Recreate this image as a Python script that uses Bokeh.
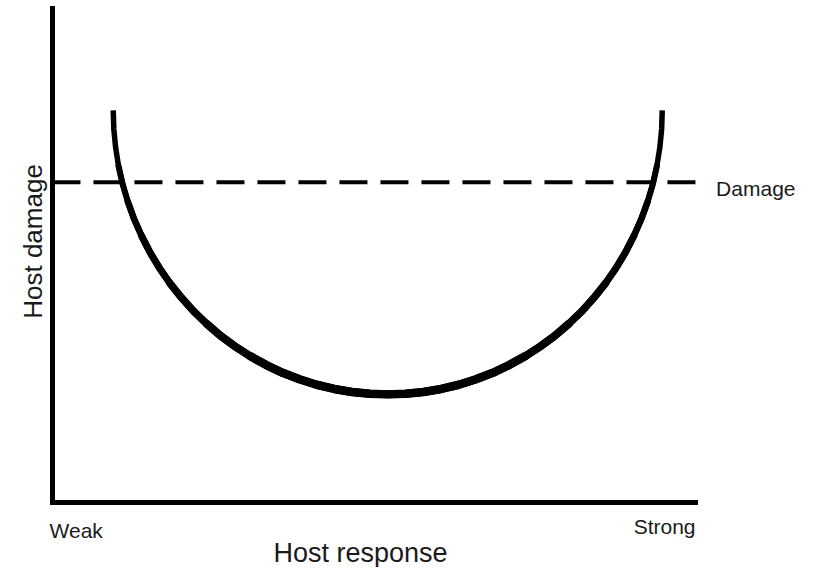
import math
from bokeh.plotting import figure
from bokeh.models import Range1d, FixedTicker
from bokeh.core.properties import value
from bokeh.embed import file_html
from bokeh.resources import INLINE

# ---- data (arbitrary 0-100 units) ----
curve_x = [9.45, 9.54, 9.82, 10.27, 10.90, 11.72, 12.70, 13.86, 15.17, 16.65, 18.28, 20.05,
           21.95, 23.99, 26.14, 28.41, 30.79, 33.26, 35.79, 38.41, 41.08, 43.81, 46.57, 49.34,
           52.13,
           54.92, 57.70, 60.46, 63.19, 65.85, 68.48, 71.01, 73.48, 75.85, 78.12, 80.27, 82.32,
           84.22, 85.99, 87.62, 89.10, 90.41, 91.57, 92.55, 93.37, 93.99, 94.45, 94.73, 94.82]
curve_y = [79.33, 75.57, 71.83, 68.11, 64.45, 60.85, 57.34, 53.92, 50.59, 47.40, 44.33, 41.44,
           38.68, 36.12, 33.72, 31.54, 29.55, 27.78, 26.22, 24.90, 23.80, 22.95, 22.34, 21.97,
           21.85,
           21.97, 22.34, 22.95, 23.80, 24.90, 26.22, 27.78, 29.55, 31.54, 33.72, 36.12, 38.68,
           41.44, 44.33, 47.40, 50.59, 53.92, 57.34, 60.85, 64.45, 68.11, 71.83, 75.57, 79.33]
damage_x = [0, 100]
damage_y = [64.8, 64.8]
x_tick_labels = ["Weak", "Strong"]
x_title = "Host response"
y_title = "Host damage"
threshold_label = "Damage"

FONT = "Liberation Sans"
W, H = 798, 567

p = figure(width=W, height=H, output_backend="svg", toolbar_location=None,
           x_range=Range1d(-8.08, 116.01), y_range=Range1d(-13.19, 101.57),
           min_border=0)
p.outline_line_color = None
p.grid.visible = False
p.background_fill_color = "white"
p.border_fill_color = "white"

for ax in (p.xaxis[0], p.yaxis[0]):
    ax.fixed_location = 0
    ax.bounds = (0, 100)
    ax.ticker = FixedTicker(ticks=[])
    ax.axis_line_width = 5
    ax.axis_line_color = "black"
    ax.axis_line_cap = "square"
    ax.major_tick_line_color = None
    ax.minor_tick_line_color = None
    ax.major_tick_out = 0
    ax.major_tick_in = 0
    ax.major_label_standoff = 0
    ax.major_label_text_font_size = "0px"

# dashed damage threshold
p.line(damage_x, damage_y, line_color="black", line_width=4, line_dash="28 13")

# U-shaped curve, drawn in layers so that it thickens toward the bottom
ymin, ymax = min(curve_y), max(curve_y)
def stroke(y):
    return 5.5 + 3.5 * (ymax - y) / (ymax - ymin)

p.line(curve_x, curve_y, line_color="black", line_width=5.5, line_join="round")
level = 6.0
while level <= 9.0:
    idx = [i for i, y in enumerate(curve_y) if stroke(y) >= level]
    if len(idx) >= 2:
        a, b = idx[0], idx[-1] + 1
        p.line(curve_x[a:b], curve_y[a:b], line_color="black", line_width=level,
               line_join="round", line_cap="round")
    level += 0.5

# texts
def txt(x, y, s, size, align, angle=0.0):
    p.text(x=[x], y=[y], text=[s], text_font=value(FONT), text_font_size=value(size),
           text_color="#1a1a1a", text_align=align, text_baseline="alphabetic",
           angle=angle)

txt(-0.45, -5.7, x_tick_labels[0], "21px", "left")
txt(100, -4.9, x_tick_labels[1], "21px", "right")
txt(47.9, -10.2, x_title, "27px", "center")
txt(-3.05, 52.8, y_title, "26px", "center", math.pi / 2)
txt(103.2, 63.6, threshold_label, "21px", "left")

open("out.html", "w").write(file_html(p, INLINE))
